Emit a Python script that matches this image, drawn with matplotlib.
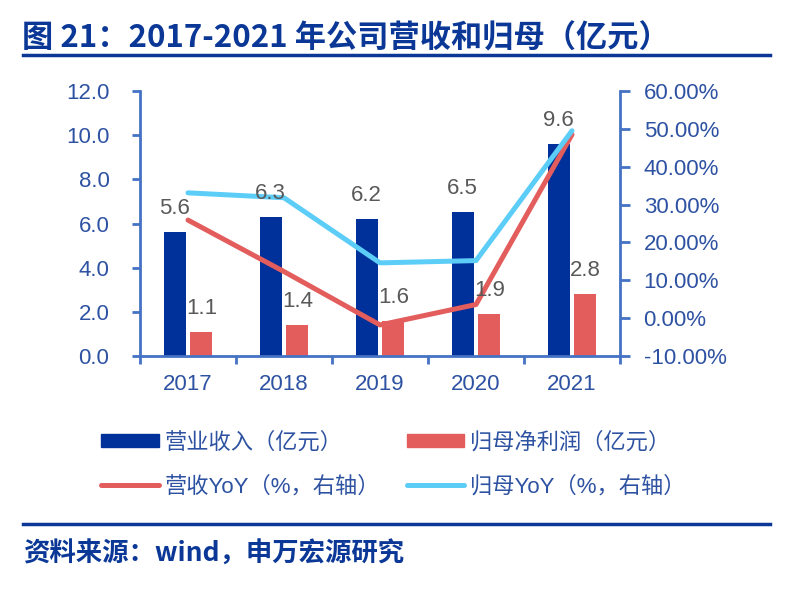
import numpy as np
import matplotlib
matplotlib.use("Agg")
import matplotlib.pyplot as plt
from matplotlib.lines import Line2D
from matplotlib.patches import Patch
from matplotlib.ticker import FuncFormatter, MultipleLocator

plt.rcParams['font.family'] = ['Liberation Sans', 'Noto Sans CJK SC', 'DejaVu Sans']

# 数据
years = ['2017', '2018', '2019', '2020', '2021']
revenue = [5.6, 6.3, 6.2, 6.5, 9.6]          # 营业收入（亿元）
net_profit = [1.1, 1.4, 1.6, 1.9, 2.8]       # 归母净利润（亿元）
revenue_yoy = [0.259, 0.123, -0.018, 0.036, 0.485]   # 营收YoY
profit_yoy = [0.331, 0.318, 0.146, 0.152, 0.495]     # 归母YoY

# 颜色
navy = '#00309A'
red = '#E35D5D'
cyan = '#5CCDF7'
axis_c = '#4472C4'
txt_c = '#2E52A2'
title_c = '#0B3896'
lab_c = '#595959'

fig = plt.figure(figsize=(8.12, 5.94), dpi=100)
ax = fig.add_axes([140 / 812, 1 - 356 / 594, 480 / 812, 265 / 594])
ax2 = ax.twinx()

x = np.arange(len(years))
w = 0.23
off = 0.14
ax.bar(x - off, revenue, w, color=navy, zorder=2)
ax.bar(x + off, net_profit, w, color=red, zorder=2)

ax2.plot(x, revenue_yoy, color=red, lw=3.6, solid_capstyle='round', zorder=3)
ax2.plot(x, profit_yoy, color=cyan, lw=3.6, solid_capstyle='round', zorder=3)

# 数据标签（画在右轴上，使其位于折线之上）
for xi, v in zip(x - off, revenue):
    ax2.annotate(f'{v:.1f}', (xi, v), xycoords=ax.transData, xytext=(0, 13),
                 textcoords='offset points', ha='center', va='baseline',
                 fontsize=16, color=lab_c, zorder=5)
for xi, v in zip(x + off, net_profit):
    ax2.annotate(f'{v:.1f}', (xi, v), xycoords=ax.transData, xytext=(0, 13),
                 textcoords='offset points', ha='center', va='baseline',
                 fontsize=16, color=lab_c, zorder=5)

# 坐标轴
ax.set_xlim(-0.5, 4.5)
ax.set_ylim(0, 12)
ax2.set_ylim(-0.10, 0.60)
ax.yaxis.set_major_locator(MultipleLocator(2))
ax.yaxis.set_major_formatter(FuncFormatter(lambda v, p: f'{v:.1f}'))
ax2.yaxis.set_major_locator(MultipleLocator(0.1))
ax2.yaxis.set_major_formatter(FuncFormatter(lambda v, p: f'{v * 100:.2f}%'))

ax.set_xticks(np.arange(-0.5, 5, 1))
ax.set_xticklabels([])
ax.set_xticks(x, minor=True)
ax.set_xticklabels(years, minor=True)
ax.tick_params(axis='x', which='major', direction='out', length=6, width=2, color=axis_c)
ax.tick_params(axis='x', which='minor', length=0, pad=13, labelsize=16, labelcolor=txt_c)
ax.tick_params(axis='y', direction='out', length=6, width=2, color=axis_c,
               pad=16, labelsize=16, labelcolor=txt_c)
ax2.tick_params(axis='y', direction='out', length=7, width=2, color=axis_c,
                pad=10, labelsize=16, labelcolor=txt_c)

for a in (ax, ax2):
    a.spines['top'].set_visible(False)
    for s in ('left', 'right', 'bottom'):
        a.spines[s].set_color(axis_c)
        a.spines[s].set_linewidth(2)
ax.spines['right'].set_visible(False)
ax2.spines['left'].set_visible(False)
ax2.spines['bottom'].set_visible(False)

# 图例
handles = [Patch(color=navy), Line2D([], [], color=red, lw=3.6, solid_capstyle='round'),
           Patch(color=red), Line2D([], [], color=cyan, lw=3.6, solid_capstyle='round')]
labels = ['营业收入（亿元）', '营收YoY（%，右轴）', '归母净利润（亿元）', '归母YoY（%，右轴）']
leg = fig.legend(handles, labels, ncol=2, loc='upper left',
                 bbox_to_anchor=(81 / 812, 1 - 412 / 594), frameon=False,
                 fontsize=16, handlelength=2.6, handleheight=0.55,
                 handletextpad=0.25, columnspacing=1.2, labelspacing=1.0)
for t in leg.get_texts():
    t.set_color(txt_c)

# 标题与来源
fig.text(22 / 812, 1 - 38 / 594, '图 21：2017-2021 年公司营收和归母（亿元）',
         fontsize=22.5, fontweight='bold', color=title_c, va='center', ha='left',
         family=['Noto Sans CJK SC', 'DejaVu Sans'])
fig.add_artist(Line2D([23 / 812, 770 / 812], [1 - 55 / 594, 1 - 55 / 594],
                      color=title_c, lw=2.5))
fig.add_artist(Line2D([23 / 812, 770 / 812], [1 - 523.5 / 594, 1 - 523.5 / 594],
                      color=title_c, lw=2.5))
fig.text(23 / 812, 1 - 554 / 594, '资料来源：wind，申万宏源研究',
         fontsize=19, fontweight='bold', color=title_c, va='center', ha='left',
         family=['Noto Sans CJK SC', 'DejaVu Sans'])

fig.savefig('out.png', dpi=100)
